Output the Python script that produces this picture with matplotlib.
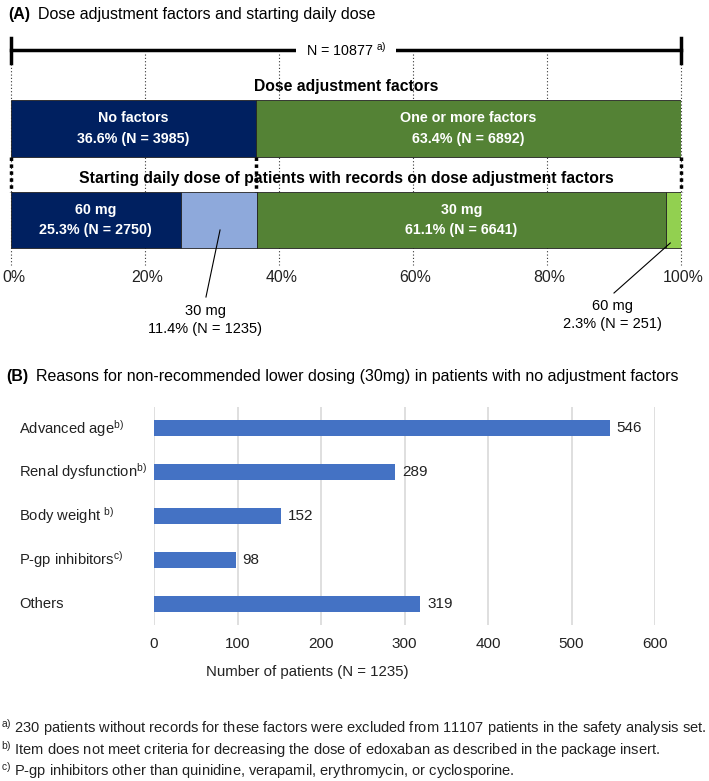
import numpy as np
import matplotlib
matplotlib.use('Agg')
import matplotlib.pyplot as plt
from matplotlib.transforms import blended_transform_factory

plt.rcParams['font.family'] = ['Liberation Sans', 'DejaVu Sans']
plt.rcParams['mathtext.default'] = 'regular'

# Datos panel A
total_n = 10877
factor_labels = ['No factors', 'One or more factors']
factor_pct = [36.6, 63.4]
factor_n = [3985, 6892]
factor_colors = ['#002060', '#548235']

dose_labels = ['60 mg', '30 mg', '30 mg', '60 mg']
dose_pct = [25.3, 11.4, 61.1, 2.3]
dose_n = [2750, 1235, 6641, 251]
dose_colors = ['#002060', '#8EA9DB', '#548235', '#92D050']

pct_ticks = [0, 20, 40, 60, 80, 100]

# Datos panel B
reasons = ['Advanced age$^{b)}$', 'Renal dysfunction$^{b)}$', 'Body weight $^{b)}$',
           'P-gp inhibitors$^{c)}$', 'Others']
counts = [546, 289, 152, 98, 319]
count_ticks = [0, 100, 200, 300, 400, 500, 600]

footnotes = ['$^{a)}$ 230 patients without records for these factors were excluded from 11107 patients in the safety analysis set.',
             '$^{b)}$ Item does not meet criteria for decreasing the dose of edoxaban as described in the package insert.',
             '$^{c)}$ P-gp inhibitors other than quinidine, verapamil, erythromycin, or cyclosporine.']

W, H = 709, 781
fig = plt.figure(figsize=(W / 100, H / 100), dpi=100)


def fx(x):
    return x / W


def fy(y):
    return 1 - y / H


# Titulos
fig.text(fx(8), fy(14), '(A)', fontsize=11.5, fontweight='bold', va='center', ha='left')
fig.text(fx(38), fy(14), 'Dose adjustment factors and starting daily dose', fontsize=11.5, va='center', ha='left')
fig.text(fx(6), fy(376), '(B)', fontsize=11.5, fontweight='bold', va='center', ha='left')
fig.text(fx(36), fy(376), 'Reasons for non-recommended lower dosing (30mg) in patients with no adjustment factors',
         fontsize=11.5, va='center', ha='left')

# ---- Panel A ----
ax = fig.add_axes([fx(11), fy(350), 670 / W, 320 / H])
ax.set_xlim(0, 100)
ax.set_ylim(350, 30)
ax.axis('off')

# lineas punteadas de referencia
for t in pct_ticks:
    ax.plot([t, t], [54, 265], color='#333333', lw=0.8, ls=(0, (1, 2)), zorder=0, clip_on=False)
    ax.text(t + 0.4, 277, f'{t}%', ha='center', va='center', fontsize=11.4, color='#222222')

# corchete N total
ax.plot([0, 100], [50, 50], color='black', lw=2.5, zorder=2, clip_on=False)
ax.plot([0, 0], [38, 63], color='black', lw=2.5, clip_on=False)
ax.plot([100, 100], [38, 63], color='black', lw=2.5, clip_on=False)
ax.text(50, 50, f'N = {total_n} $^{{a)}}$', ha='center', va='center', fontsize=10.3, zorder=3,
        bbox=dict(facecolor='white', edgecolor='none', pad=7))

ax.text(50, 87, 'Dose adjustment factors', ha='center', va='center', fontsize=11.3, fontweight='bold')

left = 0
for lab, p, n, c in zip(factor_labels, factor_pct, factor_n, factor_colors):
    ax.barh(128.5, p, left=left, height=57, color=c, edgecolor='#222222', lw=0.6, zorder=1)
    ax.text(left + p / 2, 128.5, f'{lab}\n{p}% (N = {n})', ha='center', va='center', color='white',
            fontsize=10.3, fontweight='bold', linespacing=1.55)
    left += p

# separadores gruesos entre barras
for xv in [0, factor_pct[0], 100]:
    ax.plot([xv, xv], [157, 192], color='black', lw=2.5, ls=(0, (1, 1)), clip_on=False)

ax.text(50, 178, 'Starting daily dose of patients with records on dose adjustment factors',
        ha='center', va='center', fontsize=11.3, fontweight='bold')

left = 0
lefts = []
for lab, p, n, c in zip(dose_labels, dose_pct, dose_n, dose_colors):
    ax.barh(220, p, left=left, height=56, color=c, edgecolor='#222222', lw=0.6, zorder=1)
    lefts.append(left)
    left += p

for i in [0, 2]:
    ax.text(lefts[i] + dose_pct[i] / 2, 220, f'{dose_labels[i]}\n{dose_pct[i]}% (N = {dose_n[i]})',
            ha='center', va='center', color='white', fontsize=10.3, fontweight='bold', linespacing=1.55)

# anotaciones para segmentos pequenos
ax.plot([31.2, 29.1], [230, 297], color='black', lw=0.8)
ax.text(29.0, 320, f'{dose_labels[1]}\n{dose_pct[1]}% (N = {dose_n[1]})', ha='center', va='center',
        fontsize=10.5, linespacing=1.45)
ax.plot([98.4, 90.0], [243, 293], color='black', lw=0.8)
ax.text(89.8, 315, f'{dose_labels[3]}\n{dose_pct[3]}% (N = {dose_n[3]})', ha='center', va='center',
        fontsize=10.5, linespacing=1.45)

# ---- Panel B ----
bx = fig.add_axes([fx(154), fy(625), (655 - 154) / W, (625 - 407) / H])
y = np.arange(len(reasons))
bx.barh(y, counts, height=0.36, color='#4472C4', zorder=2)
bx.set_xlim(0, 600)
bx.set_ylim(4.48, -0.48)
bx.set_xticks(count_ticks)
bx.set_xticklabels([str(t) for t in count_ticks], fontsize=11, color='#222222')
bx.tick_params(axis='x', length=0, pad=9)
bx.set_yticks([])
bx.grid(axis='x', color='#D9D9D9', lw=1.2, zorder=0)
for s in bx.spines.values():
    s.set_visible(False)
for yi, v in zip(y, counts):
    bx.text(v + 8, yi, str(v), va='center', ha='left', fontsize=11, color='#222222')
tr = blended_transform_factory(fig.transFigure, bx.transData)
for yi, lab in zip(y, reasons):
    bx.text(fx(19), yi, lab, transform=tr, va='center', ha='left', fontsize=10.6, color='#222222')
fig.text(fx(307), fy(672), 'Number of patients (N = 1235)', fontsize=10.8, color='#222222',
         ha='center', va='center')

# notas al pie
for i, ft in enumerate(footnotes):
    fig.text(fx(1), fy(728 + 21.5 * i), ft, fontsize=10.5, va='center', ha='left', color='#222222')

fig.savefig('out.png', dpi=100)
